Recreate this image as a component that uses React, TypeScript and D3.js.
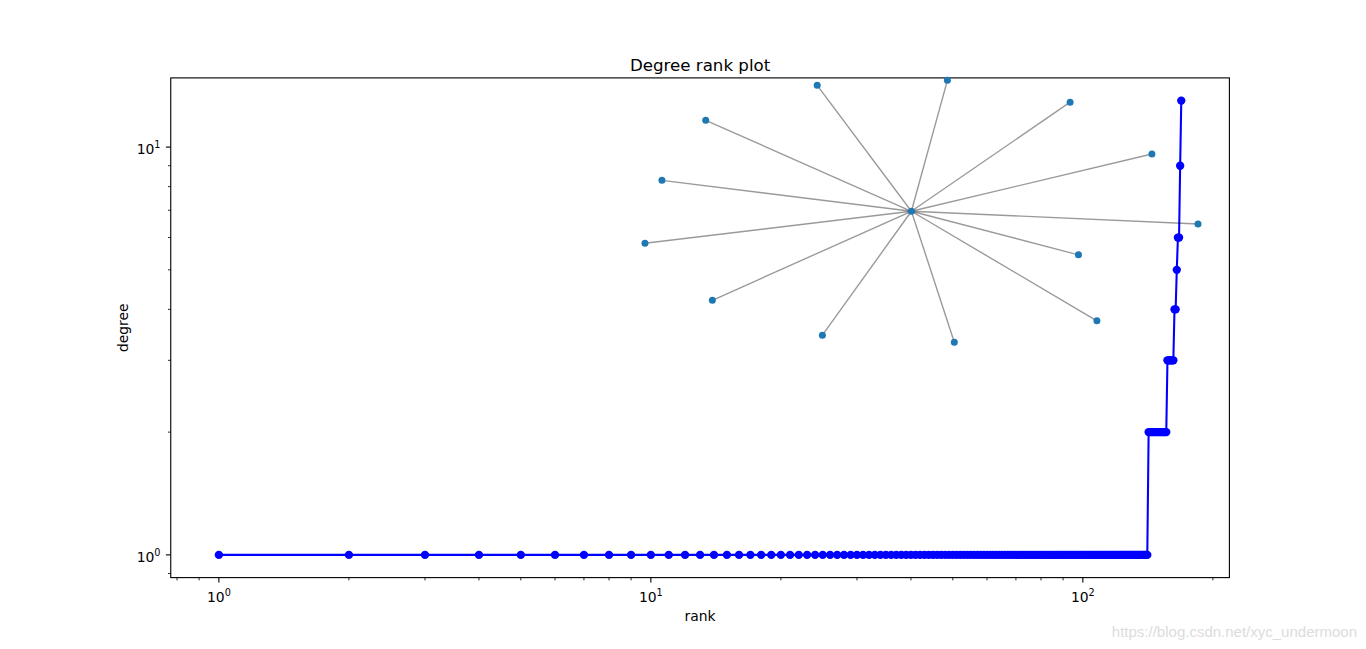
import React from "react";
import * as d3 from "d3";

// Degree sequence (ascending), run-length: degree value and how many nodes have it
const degreeLevels = [1, 2, 3, 4, 5, 6, 9, 13];
const degreeCounts = [141, 15, 6, 2, 1, 2, 1, 1];

// Inset star graph: layout coordinates of nodes (hub first)
const insetNodeX = [0.0, -0.327, 0.125, 0.551, 0.835, 0.995, 0.580, 0.644, 0.149, -0.309, -0.691, -0.925, -0.866, -0.714];
const insetNodeY = [0.0, 0.920, 0.956, 0.797, 0.418, -0.093, -0.318, -0.800, -0.956, -0.905, -0.650, -0.234, 0.226, 0.664];
const insetEdges = [[0, 1], [0, 2], [0, 3], [0, 4], [0, 5], [0, 6], [0, 7], [0, 8], [0, 9], [0, 10], [0, 11], [0, 12], [0, 13]];

const xMajorTicks = [1, 10, 100];
const xMinorTicks = [0.8, 0.9, 2, 3, 4, 5, 6, 7, 8, 9, 20, 30, 40, 50, 60, 70, 80, 90, 200];
const yMajorTicks = [1, 10];
const yMinorTicks = [0.9, 2, 3, 4, 5, 6, 7, 8, 9];

const W = 1366, H = 649;
const left = 170.75, right = 1229.4, top = 77.9, bottom = 577.6;

function expand(levels: number[], counts: number[]) {
  const out: number[] = [];
  levels.forEach((v, i) => { for (let k = 0; k < counts[i]; k++) out.push(v); });
  return out;
}

function SupLabel({ x, y, exp, anchor }: { x: number; y: number; exp: number; anchor: string }) {
  return (
    <text x={x} y={y} textAnchor={anchor} fontFamily="DejaVu Sans" fontSize={13.9} fill="#000">
      10<tspan fontSize={9.7} dy={-5.6}>{exp}</tspan>
    </text>
  );
}

export default function App() {
  const degrees = expand(degreeLevels, degreeCounts);
  const ranks = degrees.map((_, i) => i + 1);
  const Lx = Math.log10(d3.max(ranks)!);
  const Ly = Math.log10(d3.max(degrees)!);
  const x = d3.scaleLog().domain([Math.pow(10, -0.05 * Lx), Math.pow(10, 1.05 * Lx)]).range([left, right]);
  const y = d3.scaleLog().domain([Math.pow(10, -0.05 * Ly), Math.pow(10, 1.05 * Ly)]).range([bottom, top]);
  const pts = ranks.map((r, i) => [x(r), y(degrees[i])] as [number, number]);
  const linePath = d3.line()(pts)!;

  // inset axes in figure fraction [0.45, 0.45, 0.45, 0.45]
  const insL = 0.45 * W, insR = 0.9 * W, insT = H * (1 - 0.9), insB = H * (1 - 0.45);
  const ix = d3.scaleLinear().domain([-1.03, 1.104]).range([insL, insR]);
  const iy = d3.scaleLinear().domain([-1.064, 1.069]).range([insB, insT]);

  return (
    <svg width={W} height={H} style={{ position: "absolute", left: 0, top: 0, background: "#fff" }}>
      <rect x={0} y={0} width={W} height={H} fill="#fff" />
      {/* main line and markers */}
      <path d={linePath} fill="none" stroke="#0000ff" strokeWidth={2.08} strokeLinejoin="round" />
      {pts.map((p, i) => (
        <circle key={i} cx={p[0]} cy={p[1]} r={4.17} fill="#0000ff" />
      ))}
      {/* spines */}
      <rect x={left} y={top} width={right - left} height={bottom - top} fill="none" stroke="#000" strokeWidth={1.11} />
      {/* x ticks */}
      {xMajorTicks.map((t) => (
        <g key={"xM" + t}>
          <line x1={x(t)} x2={x(t)} y1={bottom} y2={bottom + 4.86} stroke="#000" strokeWidth={1.11} />
          <SupLabel x={x(t)} y={601.5} exp={Math.round(Math.log10(t))} anchor="middle" />
        </g>
      ))}
      {xMinorTicks.map((t) => (
        <line key={"xm" + t} x1={x(t)} x2={x(t)} y1={bottom} y2={bottom + 2.78} stroke="#000" strokeWidth={0.83} />
      ))}
      {/* y ticks */}
      {yMajorTicks.map((t) => (
        <g key={"yM" + t}>
          <line x1={left} x2={left - 4.86} y1={y(t)} y2={y(t)} stroke="#000" strokeWidth={1.11} />
          <SupLabel x={160.5} y={y(t) + 7} exp={Math.round(Math.log10(t))} anchor="end" />
        </g>
      ))}
      {yMinorTicks.map((t) => (
        <line key={"ym" + t} x1={left} x2={left - 2.78} y1={y(t)} y2={y(t)} stroke="#000" strokeWidth={0.83} />
      ))}
      {/* labels */}
      <text x={(left + right) / 2} y={70.5} textAnchor="middle" fontFamily="DejaVu Sans" fontSize={16.67}>Degree rank plot</text>
      <text x={(left + right) / 2} y={621} textAnchor="middle" fontFamily="DejaVu Sans" fontSize={13.9}>rank</text>
      <text transform={`translate(127.5,${(top + bottom) / 2}) rotate(-90)`} textAnchor="middle" fontFamily="DejaVu Sans" fontSize={13.9}>degree</text>
      {/* inset star graph */}
      {insetEdges.map(([a, b], i) => (
        <line key={"e" + i} x1={ix(insetNodeX[a])} y1={iy(insetNodeY[a])} x2={ix(insetNodeX[b])} y2={iy(insetNodeY[b])} stroke="#000" strokeOpacity={0.4} strokeWidth={1.39} />
      ))}
      {insetNodeX.map((nx, i) => (
        <circle key={"n" + i} cx={ix(nx)} cy={iy(insetNodeY[i])} r={3.5} fill="#1f78b4" />
      ))}
      {/* watermark */}
      <text x={1357} y={637} textAnchor="end" fontFamily="Liberation Sans" fontSize={15} fill="#dcdcdc">https://blog.csdn.net/xyc_undermoon</text>
    </svg>
  );
}
